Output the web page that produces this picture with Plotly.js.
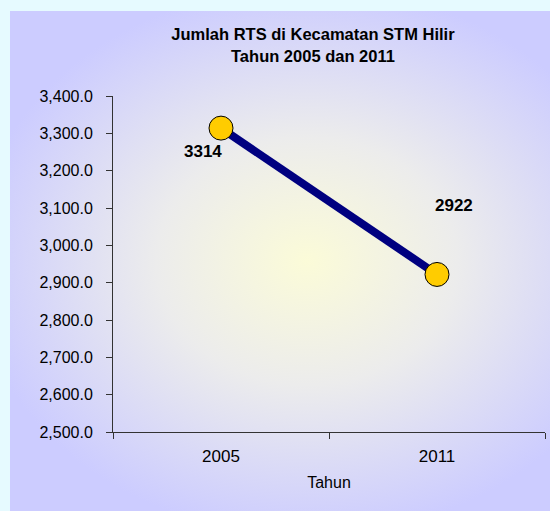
<!DOCTYPE html>
<html>
<head>
<meta charset="utf-8">
<script src="https://cdn.plot.ly/plotly-3.0.1.min.js"></script>
<style>
  html, body { margin: 0; padding: 0; background: #e6faff; }
  #frame {
    position: absolute; left: 10px; top: 11px; width: 540px; height: 500px;
    background: radial-gradient(ellipse 62% 55% at 55% 50%, #fbfbd8 0%, #ececec 45%, #ccccff 100%);
  }
  #chart { position: absolute; left: 0; top: 0; width: 550px; height: 511px; }
</style>
</head>
<body>
<div id="frame"></div>
<div id="chart"></div>
<script>
const years = ['2005', '2011'];
const rts = [3314, 2922];
const yTicks = [2500, 2600, 2700, 2800, 2900, 3000, 3100, 3200, 3300, 3400];

const trace = {
  x: years,
  y: rts,
  type: 'scatter',
  mode: 'lines+markers',
  line: { color: '#000080', width: 8 },
  marker: { size: 24, color: '#ffcc00', line: { color: '#000000', width: 1 } },
  hoverinfo: 'x+y',
};

const fam = 'Liberation Sans, Arial, sans-serif';

// value labels: x is the category index, offsets in pixels
const labelShift = [[-18, -23], [17, 69]];
const annotations = years.map((yr, i) => ({
  xref: 'x', yref: 'y',
  x: i, y: rts[i], text: '<b>' + rts[i] + '</b>',
  showarrow: false, xshift: labelShift[i][0], yshift: labelShift[i][1],
  font: { family: fam, size: 17, color: '#000' },
}));

const layout = {
  width: 550,
  height: 511,
  paper_bgcolor: 'rgba(0,0,0,0)',
  plot_bgcolor: 'rgba(0,0,0,0)',
  margin: { t: 96, r: 5, b: 79, l: 113 },
  showlegend: false,
  title: {
    text: '<b>Jumlah RTS di Kecamatan STM Hilir<br>Tahun 2005 dan 2011</b>',
    x: 0.569, xref: 'container', xanchor: 'center',
    y: 0.921, yref: 'container', yanchor: 'top',
    font: { family: fam, size: 16.5, color: '#000' },
  },
  xaxis: {
    type: 'category',
    tickson: 'boundaries',
    ticks: 'outside', ticklen: 6, tickcolor: '#333',
    showline: true, linecolor: '#333', linewidth: 1,
    showgrid: false, zeroline: false,
    tickfont: { family: fam, size: 17, color: '#000' },
    ticklabelstandoff: 9,
    title: { text: 'Tahun', font: { family: fam, size: 16, color: '#000' }, standoff: 11 },
    range: [-0.5, 1.5],
    fixedrange: true,
  },
  yaxis: {
    range: [2500, 3400],
    tickvals: yTicks,
    tickformat: ',.1f',
    ticks: 'outside', ticklen: 6, tickcolor: '#333',
    showline: true, linecolor: '#333', linewidth: 1,
    showgrid: false, zeroline: false,
    tickfont: { family: fam, size: 16, color: '#000' },
    ticklabelstandoff: 10,
    fixedrange: true,
  },
  annotations,
};

Plotly.newPlot('chart', [trace], layout, { displayModeBar: false, staticPlot: true });
</script>
</body>
</html>
